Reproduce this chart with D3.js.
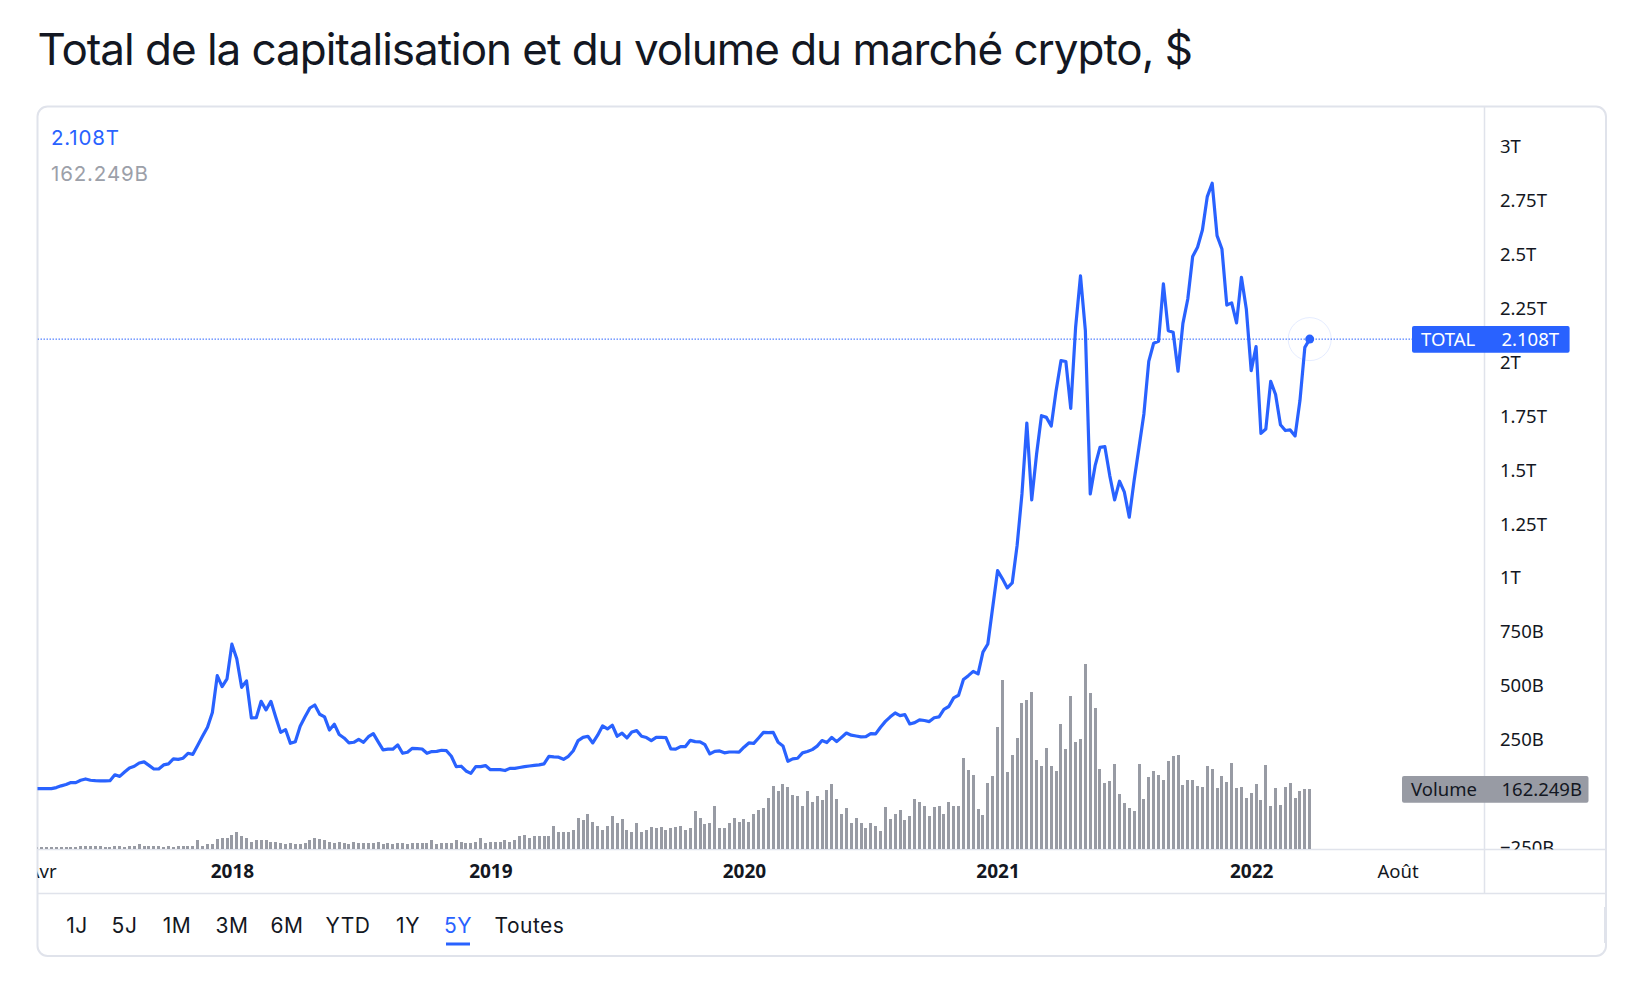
<!DOCTYPE html>
<html lang="fr">
<head>
<meta charset="utf-8">
<title>Total de la capitalisation et du volume du marché crypto</title>
<script src="https://d3js.org/d3.v7.min.js"></script>
<style>
  html, body { margin: 0; background: #fff; }
  svg { display: block; }
  .ui { font-family: Inter, sans-serif; }
  .axis text { font-family: "Noto Sans", sans-serif; font-size: 18.5px; fill: #131722; }
  .axis .domain, .axis line { display: none; }
</style>
</head>
<body>
<div id="chart"></div>
<script>
// weekly market cap, billions of dollars
const marketCap = [
  23, 23, 23, 23, 28, 36, 42, 51, 51, 62, 68, 62, 60, 59, 59, 60, 87, 80, 100, 119,
  127, 142, 147, 131, 114, 114, 133, 138, 161, 159, 164, 187, 182, 224, 267, 308, 376, 547, 496, 532,
  693, 625, 493, 523, 351, 352, 428, 388, 428, 354, 284, 297, 233, 241, 312, 356, 397, 411, 368, 356,
  295, 322, 274, 258, 235, 238, 252, 238, 264, 278, 240, 203, 206, 206, 226, 187, 192, 210, 209, 207,
  187, 195, 196, 201, 199, 173, 125, 127, 105, 94, 125, 125, 130, 111, 111, 111, 107, 117, 117, 121,
  125, 128, 131, 133, 138, 173, 170, 169, 159, 173, 199, 246, 261, 266, 235, 271, 314, 300, 317, 266,
  280, 258, 286, 292, 266, 260, 246, 261, 261, 260, 207, 206, 218, 218, 247, 241, 240, 227, 184, 196,
  198, 189, 193, 193, 192, 215, 235, 233, 258, 284, 283, 284, 238, 221, 150, 161, 164, 189, 195, 204,
  220, 246, 237, 261, 241, 261, 281, 271, 267, 263, 264, 278, 277, 308, 335, 356, 374, 362, 366, 323,
  329, 342, 339, 334, 352, 356, 391, 404, 444, 456, 529, 547, 567, 555, 656, 694, 864, 1034, 996, 954,
  977, 1150, 1390, 1719, 1362, 1575, 1753, 1745, 1705, 1869, 2008, 2004, 1787, 2163, 2401, 2147, 1390, 1521, 1606, 1609,
  1475, 1362, 1449, 1398, 1282, 1452, 1606, 1761, 2005, 2089, 2098, 2364, 2147, 2140, 1959, 2181, 2294, 2491, 2534, 2614,
  2769, 2831, 2588, 2526, 2266, 2276, 2183, 2395, 2248, 1962, 2073, 1671, 1691, 1912, 1851, 1711, 1684, 1687, 1659, 1823,
  2070, 2108
];

// weekly volume, billions of dollars
const volume = [
  3, 3, 3, 3, 3, 3, 3, 3, 3, 5.5, 5.5,
  8, 5.5, 5.5, 3.7, 3, 5.5, 5.5, 3, 5.5, 8,
  11, 5.5, 8, 5.5, 5.5, 3, 5.5, 3, 5.5, 5.5,
  5.5, 5.5, 22, 8, 11, 11, 25, 30, 30, 36,
  44, 33, 30, 19, 22, 22, 22, 16.5, 16.5, 14,
  11, 14, 11, 11, 14, 22, 27.5, 25, 22, 16.5,
  14, 16.5, 14, 11, 16.5, 14, 14, 14, 14, 16.5,
  11, 14, 11, 14, 14, 11, 14, 14, 14, 14,
  22, 11, 14, 14, 14, 22, 19, 14, 14, 16.5,
  27.5, 14, 16.5, 19,
  17, 22, 16.5, 22, 33, 36, 30, 33, 33, 33,
  33, 60.5, 44, 44, 44, 49.5, 82.5, 77, 93.5, 74,
  63, 52, 63, 88, 69, 80, 52, 44, 69, 44,
  49.5, 58, 55, 58, 52, 55, 58, 60.5, 52, 55,
  102, 85, 66, 69, 115.5, 55, 55, 69, 85, 71.5,
  80, 74, 93.5, 104.5, 110, 137.5, 173, 157, 176, 168,
  146, 143, 115.5, 157, 129, 143, 132, 160, 176, 135,
  96, 110, 69, 85, 69, 55, 69, 63, 47, 113,
  80, 93.5, 107, 77, 88, 135, 129, 118, 88, 113,
  115.5, 93.5, 126.5, 115.5, 115.5,
  248.5, 215.5, 202, 108, 92, 180, 199, 334, 463, 210,
  257, 303.5, 400, 408, 430, 243, 226.5, 276, 226.5, 213,
  342, 273, 419, 292.5, 301, 507, 427, 386, 218, 180,
  185, 232, 149.5, 125, 111, 103, 232, 136, 196, 213,
  202, 188, 240, 254, 257, 174, 188, 188, 171.5, 169,
  226.5, 218, 166, 199, 182.5, 235, 166, 169, 138.5, 152,
  177, 133, 229, 116.5, 166, 119, 169, 180, 138.5, 158,
  163, 162.249
];

const priceTicks = [-250, 250, 500, 750, 1000, 1250, 1500, 1750, 2000, 2250, 2500, 2750, 3000];
const priceLabels = ["−250B", "250B", "500B", "750B", "1T", "1.25T", "1.5T", "1.75T", "2T", "2.25T", "2.5T", "2.75T", "3T"];

const timeTicks = ["2017-04-03", "2018-01-01", "2019-01-07", "2020-01-06", "2021-01-04", "2022-01-03", "2022-08-01"];
const timeLabels = ["Avr", "2018", "2019", "2020", "2021", "2022", "Août"];
const yearLabels = ["2018", "2019", "2020", "2021", "2022"];

const rangeLabels = ["1J", "5J", "1M", "3M", "6M", "YTD", "1Y", "5Y", "Toutes"];
const rangeCenters = [77, 124.5, 177, 232, 287, 348, 408, 458, 529.5];

const weeks = d3.utcMonday.range(new Date(Date.UTC(2017, 2, 27)), new Date(Date.UTC(2022, 3, 4)));

const blue = "#2962ff";
const grey = "#989ba4";
const ink = "#131722";
const rule = "#e0e3eb";

const width = 1638, height = 984;
const cardLeft = 37.5, cardRight = 1606, cardTop = 106.5, cardBottom = 956;
const axisX = 1484.5, timeY = 849.5, footerY = 893.5;

const x = d3.scaleUtc()
  .domain([new Date(Date.UTC(2017, 2, 27)), new Date(Date.UTC(2022, 7, 1))])
  .range([36.8, 1397.5]);
const y = d3.scaleLinear().domain([0, 3000]).range([793.6, 146.8]);
const yVolume = d3.scaleLinear().domain([0, 507]).range([848.5, 664]);

const svg = d3.select("#chart").append("svg")
  .attr("width", width)
  .attr("height", height);

const defs = svg.append("defs");
defs.append("clipPath").attr("id", "pane").append("rect")
  .attr("x", cardLeft).attr("y", cardTop)
  .attr("width", axisX - cardLeft).attr("height", timeY - cardTop);
defs.append("clipPath").attr("id", "price-axis").append("rect")
  .attr("x", axisX).attr("y", cardTop)
  .attr("width", cardRight - axisX).attr("height", timeY - cardTop);
defs.append("clipPath").attr("id", "time-axis").append("rect")
  .attr("x", cardLeft).attr("y", timeY)
  .attr("width", cardRight - cardLeft).attr("height", footerY - timeY);

svg.append("text")
  .attr("class", "ui")
  .attr("x", 37.5)
  .attr("y", 65)
  .attr("font-size", 44)
  .attr("letter-spacing", -1.03)
  .attr("fill", ink)
  .text("Total de la capitalisation et du volume du marché crypto, $");

// card and its rules
svg.append("rect")
  .attr("x", cardLeft).attr("y", cardTop)
  .attr("width", cardRight - cardLeft).attr("height", cardBottom - cardTop)
  .attr("rx", 10)
  .attr("fill", "#fff")
  .attr("stroke", rule)
  .attr("stroke-width", 2);
svg.append("line")
  .attr("x1", cardLeft).attr("x2", cardRight).attr("y1", timeY).attr("y2", timeY)
  .attr("stroke", rule).attr("stroke-width", 1.5);
svg.append("line")
  .attr("x1", cardLeft).attr("x2", cardRight).attr("y1", footerY).attr("y2", footerY)
  .attr("stroke", rule).attr("stroke-width", 1.5);
svg.append("line")
  .attr("x1", axisX).attr("x2", axisX).attr("y1", cardTop).attr("y2", footerY)
  .attr("stroke", rule).attr("stroke-width", 1.5);
svg.append("rect")
  .attr("x", 1604).attr("y", 907)
  .attr("width", 2.5).attr("height", 36)
  .attr("fill", rule);

const pane = svg.append("g").attr("clip-path", "url(#pane)");

pane.selectAll("rect.bar")
  .data(volume)
  .enter()
  .append("rect")
  .attr("class", "bar")
  .attr("x", function(d, i) { return Math.round(x(weeks[i]) - 1.5); })
  .attr("y", function(d) { return yVolume(d); })
  .attr("width", 3)
  .attr("height", function(d) { return yVolume(0) - yVolume(d); })
  .attr("fill", grey)
  .attr("shape-rendering", "crispEdges");

const last = marketCap.length - 1;

pane.append("line")
  .attr("x1", cardLeft).attr("x2", 1413)
  .attr("y1", y(marketCap[last])).attr("y2", y(marketCap[last]))
  .attr("stroke", blue)
  .attr("stroke-width", 1)
  .attr("stroke-dasharray", "1.5 1.5");

const line = d3.line()
  .x(function(d, i) { return x(weeks[i]); })
  .y(function(d) { return y(d); });

pane.append("path")
  .attr("d", line(marketCap))
  .attr("fill", "none")
  .attr("stroke", blue)
  .attr("stroke-width", 3.2)
  .attr("stroke-linejoin", "round");

pane.append("circle")
  .attr("cx", x(weeks[last])).attr("cy", y(marketCap[last]))
  .attr("r", 21.5)
  .attr("fill", "#fff").attr("fill-opacity", 0)
  .attr("stroke", blue).attr("stroke-opacity", 0.12);
pane.append("circle")
  .attr("cx", x(weeks[last])).attr("cy", y(marketCap[last]))
  .attr("r", 4.5)
  .attr("fill", blue);

// axes, ticks hidden and labels placed by the scales
svg.append("g")
  .attr("class", "axis")
  .attr("clip-path", "url(#price-axis)")
  .append("g")
  .attr("transform", "translate(" + 1500 + ",0)")
  .call(d3.axisRight(y)
    .tickValues(priceTicks)
    .tickSize(0)
    .tickPadding(0)
    .tickFormat(function(d, i) { return priceLabels[i]; }));

const timeAxis = svg.append("g")
  .attr("class", "axis")
  .attr("clip-path", "url(#time-axis)")
  .append("g")
  .attr("transform", "translate(0," + 864.5 + ")")
  .call(d3.axisBottom(x)
    .tickValues(timeTicks.map(function(d) { return new Date(d + "T00:00:00Z"); }))
    .tickSize(0)
    .tickPadding(0)
    .tickFormat(function(d, i) { return timeLabels[i]; }));
timeAxis.selectAll("text")
  .attr("font-weight", function(d, i) { return yearLabels.indexOf(timeLabels[i]) >= 0 ? 700 : 400; })
  .style("font-size", function(d, i) { return yearLabels.indexOf(timeLabels[i]) >= 0 ? "19px" : "18.5px"; });

// floating value tags on the price axis
function axisTag(top, bottom, left, right, fill, color, name, value) {
  const tag = svg.append("g").attr("class", "axis");
  tag.append("rect")
    .attr("x", left).attr("y", top)
    .attr("width", right - left).attr("height", bottom - top)
    .attr("rx", 2)
    .attr("fill", fill);
  tag.append("text")
    .attr("x", left + 9).attr("y", (top + bottom) / 2 + 0.5)
    .attr("dy", "0.35em")
    .style("fill", color)
    .text(name);
  tag.append("text")
    .attr("x", 1501.5).attr("y", (top + bottom) / 2 + 0.5)
    .attr("dy", "0.35em")
    .style("fill", color)
    .text(value);
}
axisTag(326, 352.7, 1412, 1569.6, blue, "#fff", "TOTAL", "2.108T");
axisTag(776, 802.7, 1402, 1588.5, grey, ink, "Volume", "162.249B");

// legend, top left of the pane
svg.append("text")
  .attr("class", "ui")
  .attr("x", 51).attr("y", 145)
  .attr("font-size", 20.5)
  .attr("letter-spacing", 0.85)
  .attr("fill", blue)
  .text("2.108T");
svg.append("text")
  .attr("class", "ui")
  .attr("x", 51).attr("y", 181)
  .attr("font-size", 20.5)
  .attr("letter-spacing", 0.85)
  .attr("fill", "#9ca0a9")
  .text("162.249B");

// range buttons
svg.selectAll("text.range")
  .data(rangeLabels)
  .enter()
  .append("text")
  .attr("class", "range ui")
  .attr("x", function(d, i) { return rangeCenters[i]; })
  .attr("y", 933)
  .attr("text-anchor", "middle")
  .attr("font-size", 21)
  .attr("letter-spacing", 0.5)
  .attr("fill", function(d) { return d === "5Y" ? blue : ink; })
  .text(function(d) { return d; });
svg.append("rect")
  .attr("x", 446).attr("y", 942.5)
  .attr("width", 24).attr("height", 3)
  .attr("fill", blue);
</script>
</body>
</html>
